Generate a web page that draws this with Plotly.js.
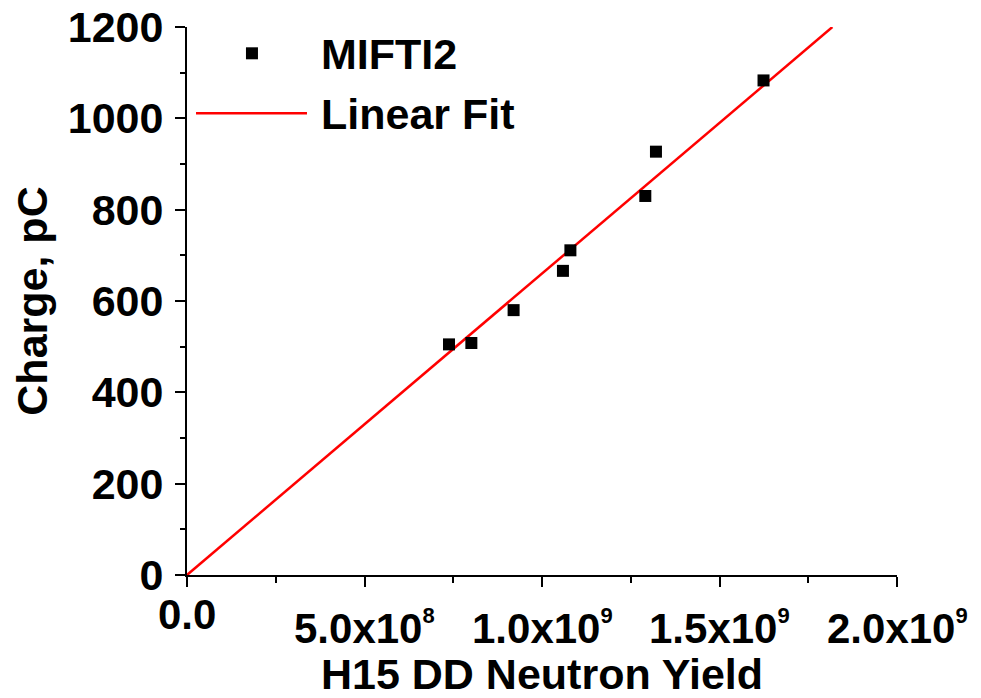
<!DOCTYPE html>
<html>
<head>
<meta charset="utf-8">
<script src="https://cdn.plot.ly/plotly-3.0.1.min.js"></script>
<style>html,body{margin:0;padding:0;background:#fff;}#chart{width:981px;height:698px;}</style>
</head>
<body>
<div id="chart"></div>
<script>
// Data
const yieldX = [0.738e9, 0.801e9, 0.920e9, 1.059e9, 1.080e9, 1.291e9, 1.321e9, 1.624e9];
const chargeY = [505, 508, 580, 666, 711, 830, 927, 1083];
const fitX = [0, 1.818e9];
const fitY = [0, 1200];
const xTickVals = [0, 5e8, 1e9, 1.5e9, 2e9];
const xTickMain = ['0.0', '5.0x10', '1.0x10', '1.5x10', '2.0x10'];
const xTickExp = ['', '8', '9', '9', '9'];
const yTickVals = [0, 200, 400, 600, 800, 1000, 1200];
const seriesName = 'MIFTI2';
const fitName = 'Linear Fit';

const FONT = 'Liberation Sans, Arial, sans-serif';

const traces = [
  {
    x: fitX, y: fitY, mode: 'lines', name: fitName,
    line: {color: '#ff0000', width: 2.5}, showlegend: false, hoverinfo: 'skip'
  },
  {
    x: yieldX, y: chargeY, mode: 'markers', name: seriesName,
    marker: {symbol: 'square', size: 12, color: '#000000'}, showlegend: false
  }
];

const annotations = xTickVals.map((v, i) => ({
  x: v, xref: 'x', y: 0, yref: 'paper',
  text: xTickExp[i]
    ? xTickMain[i] + '<span style="font-size:22px;baseline-shift:20px">' + xTickExp[i] + '</span>'
    : xTickMain[i],
  showarrow: false, xanchor: 'center', yanchor: 'middle',
  yshift: xTickExp[i] ? -52 : -39,
  font: {family: FONT, size: 42, color: '#000', weight: 'bold'}
}));

annotations.push(
  {x: 0.186, xref: 'paper', y: 0.950, yref: 'paper', text: seriesName, showarrow: false,
   xanchor: 'left', yanchor: 'middle', font: {family: FONT, size: 43, color: '#000', weight: 'bold'}},
  {x: 0.186, xref: 'paper', y: 0.8408, yref: 'paper', text: fitName, showarrow: false,
   xanchor: 'left', yanchor: 'middle', font: {family: FONT, size: 43, color: '#000', weight: 'bold'}}
);

const shapes = [
  {type: 'line', xref: 'paper', yref: 'paper', x0: 0.0127, x1: 0.169, y0: 0.8426, y1: 0.8426,
   line: {color: '#ff0000', width: 2.5}},
  {type: 'rect', xref: 'paper', yref: 'paper', xsizemode: 'pixel', ysizemode: 'pixel',
   xanchor: 0.0915, yanchor: 0.952, x0: -6, x1: 6, y0: -6, y1: 6,
   fillcolor: '#000', line: {width: 0}}
];

const layout = {
  width: 981, height: 698,
  margin: {l: 187, r: 84, t: 27, b: 123},
  paper_bgcolor: '#ffffff', plot_bgcolor: '#ffffff',
  showlegend: false,
  font: {family: FONT, color: '#000'},
  xaxis: {
    range: [0, 2e9], tickvals: xTickVals, showticklabels: false,
    ticks: 'outside', ticklen: 10, tickwidth: 2, tickcolor: '#000',
    minor: {dtick: 2.5e8, tick0: 0, ticks: 'outside', ticklen: 6, tickwidth: 2, tickcolor: '#000'},
    showline: true, linewidth: 2, linecolor: '#000', showgrid: false, zeroline: false,
    title: {text: 'H15 DD Neutron Yield', font: {family: FONT, size: 43, color: '#000', weight: 'bold'}, standoff: 81}
  },
  yaxis: {
    range: [0, 1200], tickvals: yTickVals,
    ticks: 'outside', ticklen: 10, tickwidth: 2, tickcolor: '#000',
    minor: {dtick: 100, tick0: 0, ticks: 'outside', ticklen: 5, tickwidth: 2, tickcolor: '#000'},
    showline: true, linewidth: 2, linecolor: '#000', showgrid: false, zeroline: false,
    tickfont: {family: FONT, size: 43, color: '#000', weight: 'bold'},
    ticklabelstandoff: 3,
    title: {text: 'Charge, pC', font: {family: FONT, size: 43, color: '#000', weight: 'bold'}, standoff: 7}
  },
  annotations: annotations,
  shapes: shapes
};

Plotly.newPlot('chart', traces, layout, {displayModeBar: false, staticPlot: true});
</script>
</body>
</html>
